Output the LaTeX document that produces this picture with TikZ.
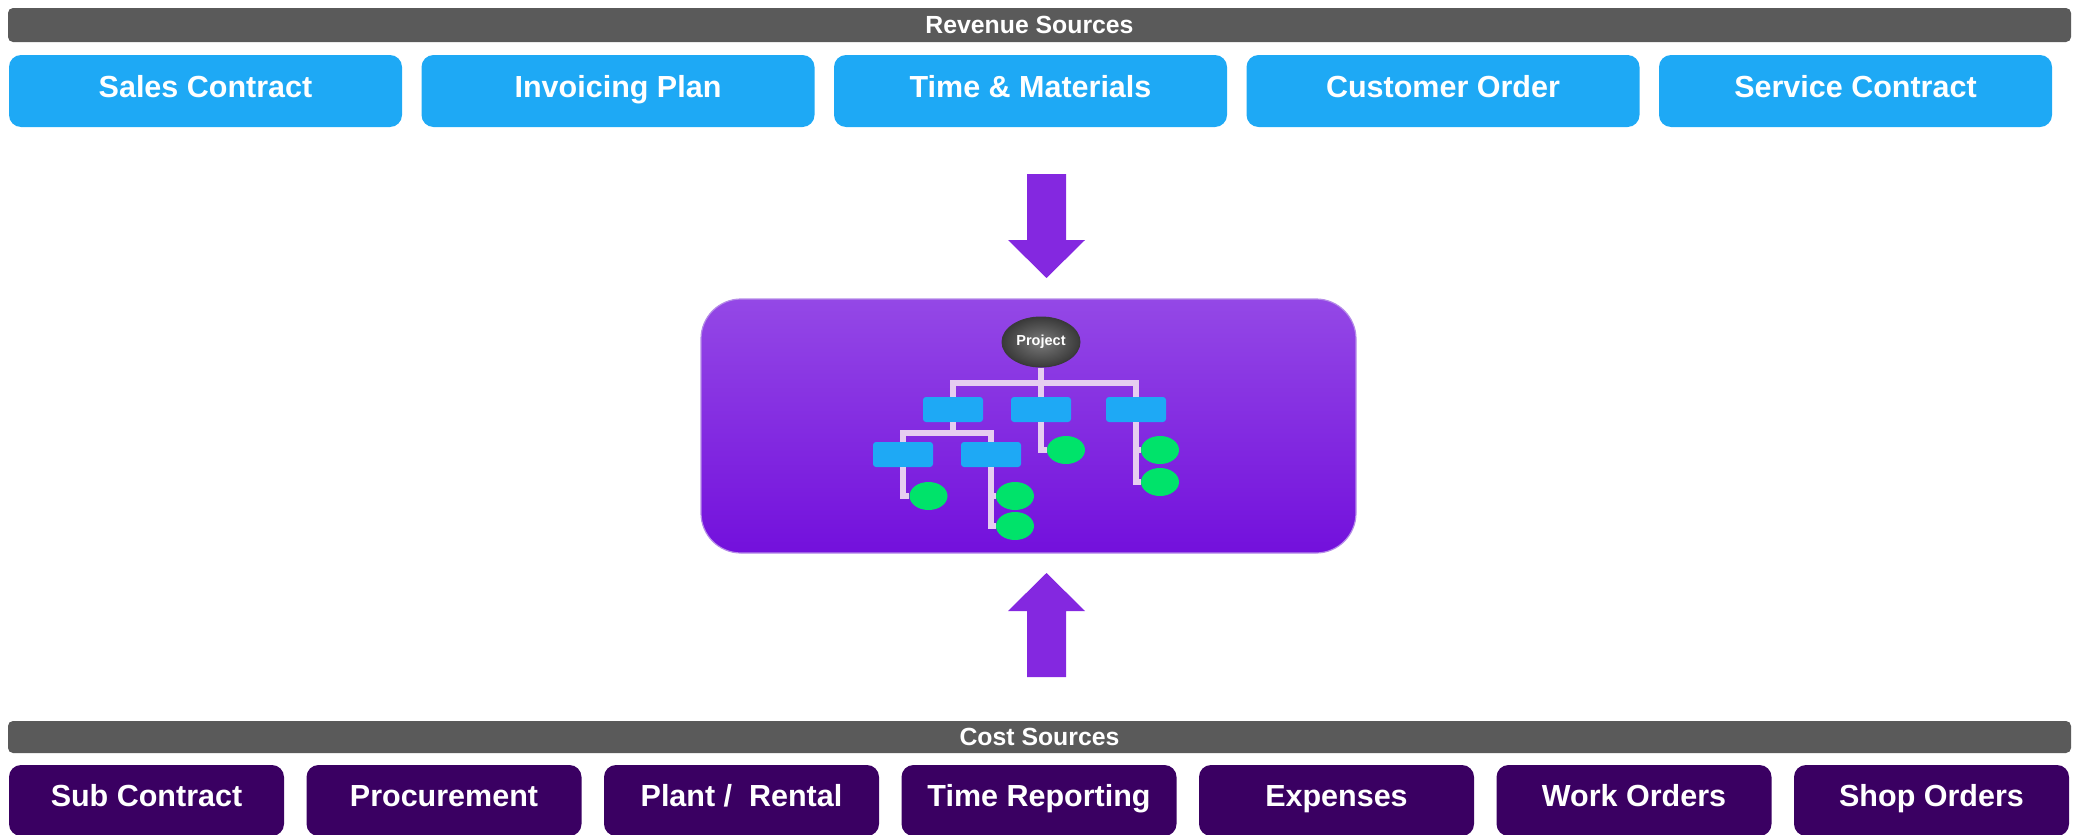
\documentclass[tikz,border=0pt]{standalone}
\usepackage{fontspec}
\setmainfont{Liberation Sans}
\usetikzlibrary{shapes.geometric}
\definecolor{barGray}{HTML}{5A5A5A}
\definecolor{revBlue}{HTML}{1EA9F5}
\definecolor{costPurple}{HTML}{3A0062}
\definecolor{arrowPurple}{HTML}{8428E0}
\definecolor{coreTop}{HTML}{9448E6}
\definecolor{coreBot}{HTML}{7310DC}
\definecolor{coreRim}{HTML}{B58BE8}
\definecolor{leafGreen}{HTML}{00E36A}
\definecolor{treeLine}{HTML}{E6CDF0}
\definecolor{projIn}{HTML}{7A7A7A}
\definecolor{projOut}{HTML}{3A3A3A}
\begin{document}
\begin{tikzpicture}[x=0.5pt,y=-0.5pt,
  headbar/.style={fill=barGray, rounded corners=2.5pt, minimum width=1031.5pt,
    inner sep=0pt, text=white, font=\bfseries\fontsize{12.4}{12.4}\selectfont,
    text height=8.9pt, text depth=0pt},
  boxtext/.style={inner sep=0pt, text=white,
    font=\bfseries\fontsize{15.25}{15.25}\selectfont, text height=6.4pt, text depth=0pt},
  revbox/.style={boxtext, fill=revBlue, rounded corners=6pt,
    minimum width=196.5pt, minimum height=36pt},
  costbox/.style={boxtext, fill=costPurple, rounded corners=6pt,
    minimum width=137.5pt, minimum height=35.5pt},
  core/.style={rounded corners=20pt, top color=coreTop, bottom color=coreBot,
    draw=coreRim, line width=0.6pt, minimum width=327.5pt, minimum height=127pt, inner sep=0pt},
  bigarrow/.style={fill=arrowPurple},
  proj/.style={ellipse, inner color=projIn, outer color=projOut, draw=projOut, line width=0.5pt,
    minimum width=39pt, minimum height=25pt, inner sep=0pt, text=white,
    font=\bfseries\fontsize{7.25}{7.25}\selectfont},
  tbox/.style={fill=revBlue, rounded corners=1.5pt, minimum width=30pt,
    minimum height=12.5pt, inner sep=0pt},
  leaf/.style={ellipse, fill=leafGreen, minimum width=19pt, minimum height=14pt, inner sep=0pt},
  tline/.style={draw=treeLine, line width=2.6pt}
]
\useasboundingbox (0,0) rectangle (2074,835);

% headers
\node[headbar, minimum height=17pt] (revhead) at (1039.5,25) {\hspace*{-10pt}Revenue Sources};
\node[headbar, minimum height=16pt] (costhead) at (1039.5,737) {Cost Sources};

% revenue sources
\node[revbox] (rev1) at (205.5,91) {Sales Contract};
\node[revbox] (rev2) at (618,91) {Invoicing Plan};
\node[revbox] (rev3) at (1030.5,91) {Time \& Materials};
\node[revbox] (rev4) at (1443,91) {Customer Order};
\node[revbox] (rev5) at (1855.5,91) {Service Contract};

% cost sources
\node[costbox] (cost1) at (146.5,800.5) {Sub Contract};
\node[costbox] (cost2) at (444,800.5) {Procurement};
\node[costbox] (cost3) at (741.5,800.5) {Plant /\ \ Rental};
\node[costbox] (cost4) at (1039,800.5) {Time Reporting};
\node[costbox] (cost5) at (1336.5,800.5) {Expenses};
\node[costbox] (cost6) at (1634,800.5) {Work Orders};
\node[costbox] (cost7) at (1931.5,800.5) {Shop Orders};

% block arrows
\fill[bigarrow] (1027,174) -- (1066,174) -- (1066,240) -- (1085,240) -- (1046.5,278)
  -- (1008,240) -- (1027,240) -- cycle;
\fill[bigarrow] (1027,677) -- (1066,677) -- (1066,611) -- (1085,611) -- (1046.5,573)
  -- (1008,611) -- (1027,611) -- cycle;

% central project box
\node[core] (corebox) at (1028.5,426) {};

% tree
\node[proj] (project) at (1041,342) {Project};
\node[tbox] (b1) at (953,409.5) {};
\node[tbox] (b2) at (1041,409.5) {};
\node[tbox] (b3) at (1136,409.5) {};
\node[tbox] (la) at (903,454.5) {};
\node[tbox] (lb) at (991,454.5) {};
\node[leaf] (g1) at (1066,450) {};
\node[leaf] (g2) at (1160,450) {};
\node[leaf] (g3) at (1160,482) {};
\node[leaf] (g4) at (928.5,496) {};
\node[leaf] (g5) at (1015,496) {};
\node[leaf] (g6) at (1015,526) {};
\coordinate (j1) at (1041,383);
\coordinate (j2) at (953,433);

\draw[tline] (project.south) -- (b2.north);
\draw[tline] (b1.north) |- (j1) -| (b3.north);
\draw[tline] (b1.south) -- (j2);
\draw[tline] (la.north) |- (j2) -| (lb.north);
\draw[tline] (b2.south) |- (g1.west);
\draw[tline] (b3.south) |- (g3.west);
\draw[tline] (b3.south |- g2.west) -- (g2.west);
\draw[tline] (la.south) |- (g4.west);
\draw[tline] (lb.south) |- (g6.west);
\draw[tline] (lb.south |- g5.west) -- (g5.west);
\end{tikzpicture}
\end{document}
